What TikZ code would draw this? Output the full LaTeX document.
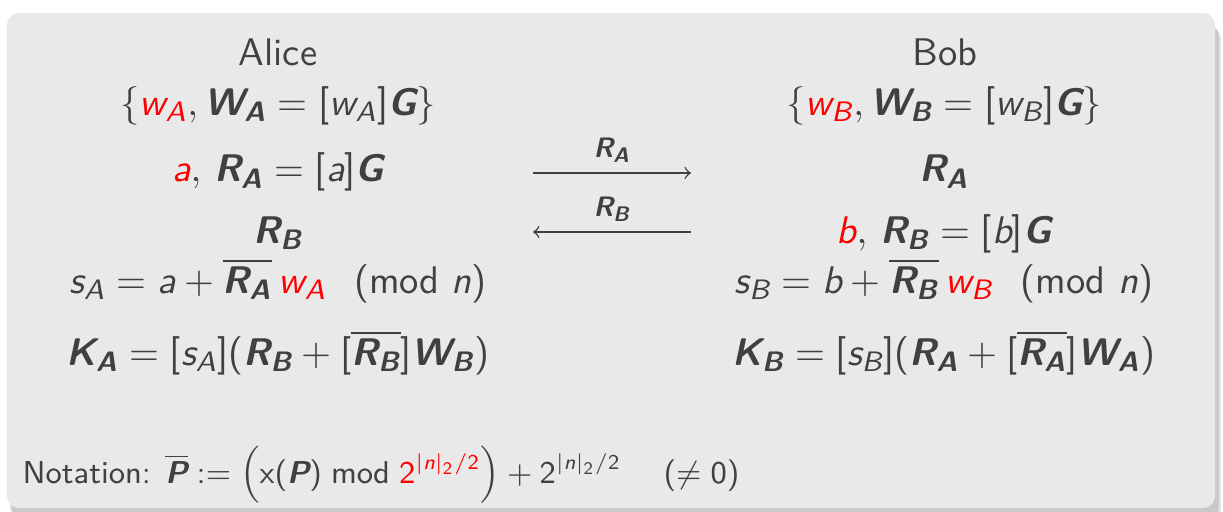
\documentclass[tikz,border=0pt]{standalone}
\usepackage{amsmath}
\usetikzlibrary{positioning}

% sans serif maths, as in a beamer frame
\DeclareSymbolFont{operators}{TU}{lmss}{m}{n}
\SetSymbolFont{operators}{bold}{TU}{lmss}{bx}{n}
\DeclareSymbolFont{sfletters}{TU}{lmss}{m}{sl}
\newcommand\sfletter[1]{\DeclareMathSymbol{#1}{\mathalpha}{sfletters}{`#1}}
\sfletter a\sfletter b\sfletter n\sfletter s\sfletter w\sfletter A\sfletter B
\DeclareMathAlphabet{\mathbsf}{TU}{lmss}{bx}{sl}

\newcommand{\bsf}[1]{\mathbsf{#1}}
\newcommand{\bpt}[2]{\mathbsf{#1}_{\mathbsf{#2}}}
\newcommand{\secret}[1]{{\color{red}#1}}

\definecolor{textgray}{RGB}{64,64,64}
\definecolor{boxgray}{RGB}{233,233,233}

\begin{document}
\begin{tikzpicture}[x=0.01cm, y=-0.01cm,
    every node/.style={text=textgray, inner sep=0pt, font=\fontsize{10.95}{13}\selectfont\sffamily},
    row/.style={anchor=base},
    msg/.style={-to, line width=0.4pt, draw=textgray},
    msglabel/.style={above=2.7pt}]
  \useasboundingbox (0,0) rectangle (1223,512);

  % block with its shadow
  \fill[black, opacity=0.10, rounded corners=3.4pt] (12,27) rectangle (1221,522);
  \fill[black, opacity=0.12, rounded corners=3.4pt] (10,24) rectangle (1219,519);
  \fill[boxgray, rounded corners=3.4pt] (7,13) rectangle (1215,508);

  % Alice
  \node[row] (alicename) at (278,65) {Alice};
  \node[row] (alicelong) at (278,115) {$\{\secret{w_A}, \bpt WA = [w_A]\bsf G\}$};
  \node[row] (aliceeph) at (278,182) {$\secret{a}{,}\ \bpt RA = [a]\bsf G$};
  \node[row] (alicerb) at (278,243) {$\bpt RB$};
  \node[row] (alicesig) at (278,293) {$s_A = a + \overline{\bpt RA}\,\secret{w_A}\mkern5mu\pmod{n}$};
  \node[row] (alicekey) at (278,365) {$\bpt KA = [s_A](\bpt RB + [\overline{\bpt RB}]\bpt WB)$};

  % Bob
  \node[row] (bobname) at (945,65) {Bob};
  \node[row] (boblong) at (944,115) {$\{\secret{w_B}, \bpt WB = [w_B]\bsf G\}$};
  \node[row] (bobra) at (944,182) {$\bpt RA$};
  \node[row] (bobeph) at (944,243) {$\secret{b}{,}\ \bpt RB = [b]\bsf G$};
  \node[row] (bobsig) at (944,293) {$s_B = b + \overline{\bpt RB}\,\secret{w_B}\mkern5mu\pmod{n}$};
  \node[row] (bobkey) at (944,365) {$\bpt KB = [s_B](\bpt RA + [\overline{\bpt RA}]\bpt WA)$};

  % exchanged points
  \coordinate (raL) at (533,173);
  \coordinate (raR) at (691,173);
  \coordinate (rbL) at (533,232);
  \coordinate (rbR) at (691,232);
  \draw[msg] (raL) -- node[msglabel] (ralabel) {$\scriptstyle\bpt RA$} (raR);
  \draw[msg] (rbR) -- node[msglabel] (rblabel) {$\scriptstyle\bpt RB$} (rbL);

  % notation
  \node[anchor=base west, font=\small\sffamily] (notation) at (22,483)
    {Notation: $\overline{\bsf P} := \Bigl(\mathrm{x}(\bsf P) \bmod \secret{2^{|n|_2/2}}\Bigr) + 2^{|n|_2/2} \quad\ (\neq 0)$};
\end{tikzpicture}
\end{document}
